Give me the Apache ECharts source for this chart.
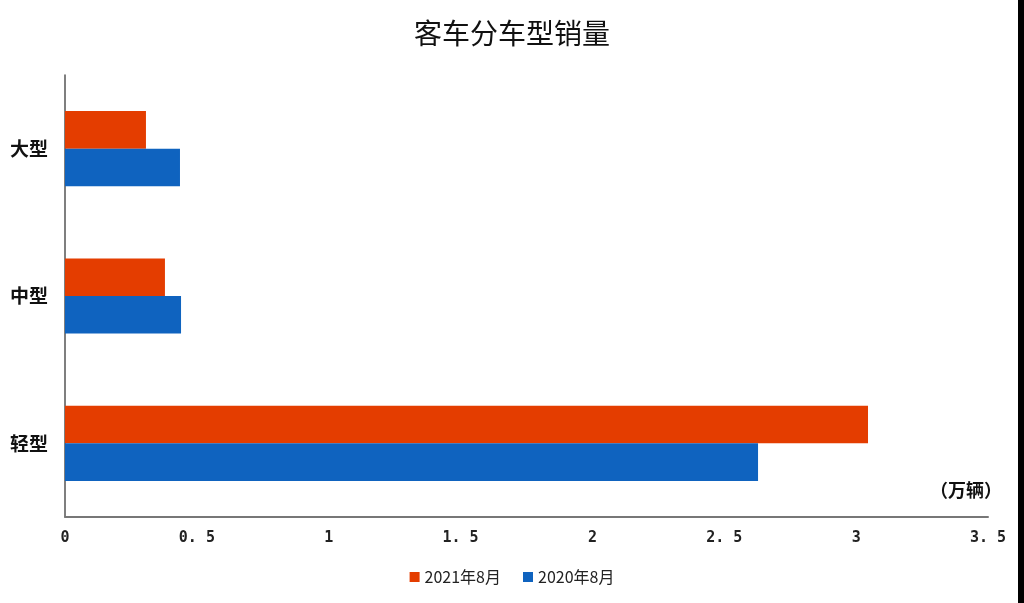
<!DOCTYPE html>
<html><head><meta charset="utf-8">
<script src="https://cdn.jsdelivr.net/npm/echarts@6/dist/echarts.min.js"></script>
<style>html,body{margin:0;padding:0;background:#fff}#c{width:1024px;height:603px}</style>
</head><body><div id="c"></div>
<script>
const categories = ['轻型', '中型', '大型'];
const seriesNames = ['2021年8月', '2020年8月'];
const sales2021 = [3.045, 0.379, 0.307];
const sales2020 = [2.628, 0.44, 0.436];
const xTicks = [0, 0.5, 1, 1.5, 2, 2.5, 3, 3.5];

const chart = echarts.init(document.getElementById('c'));
chart.setOption({
  backgroundColor: '#fff',
  animation: false,
  title: {
    text: '客车分车型销量', left: 'center', top: 14,
    textStyle: { fontSize: 28, fontWeight: 'normal', color: '#111', fontFamily: 'Noto Sans CJK SC' }
  },
  legend: {
    data: seriesNames, bottom: 13, left: 'center', itemWidth: 10, itemHeight: 10, itemGap: 22,
    icon: 'rect',
    textStyle: { fontSize: 16, color: '#222', fontFamily: 'Noto Sans CJK SC' }
  },
  grid: { left: 65, right: 36, top: 75, bottom: 86, containLabel: false },
  xAxis: {
    type: 'value', min: 0, max: 3.5, interval: 0.5,
    axisLine: { show: true, lineStyle: { color: '#777', width: 2 } },
    axisTick: { show: false },
    splitLine: { show: false },
    axisLabel: {
      margin: 14, fontSize: 15, fontWeight: 'bold', color: '#222', fontFamily: 'DejaVu Sans Mono',
      formatter: v => String(v).replace('.', '. ')
    }
  },
  yAxis: {
    type: 'category', data: categories,
    axisLine: { show: true, lineStyle: { color: '#555', width: 1.5 } },
    axisTick: { show: false },
    axisLabel: { margin: 17, fontSize: 19, fontWeight: 'bold', color: '#111', fontFamily: 'Noto Sans CJK SC' }
  },
  series: [
    { name: seriesNames[0], type: 'bar', data: sales2021, barGap: '0%', barCategoryGap: '49%',
      itemStyle: { color: '#E43D00' } },
    { name: seriesNames[1], type: 'bar', data: sales2020, barGap: '0%', barCategoryGap: '49%',
      itemStyle: { color: '#0F63BF' } }
  ],
  graphic: [
    { type: 'text', right: 22, top: 481,
      style: { text: '（万辆）', fontSize: 18, fontWeight: 'bold', fill: '#111', fontFamily: 'Noto Sans CJK SC' } },
    { type: 'rect', shape: { x: 1018, y: 0, width: 6, height: 603 }, style: { fill: '#000' } }
  ]
});
</script></body></html>
